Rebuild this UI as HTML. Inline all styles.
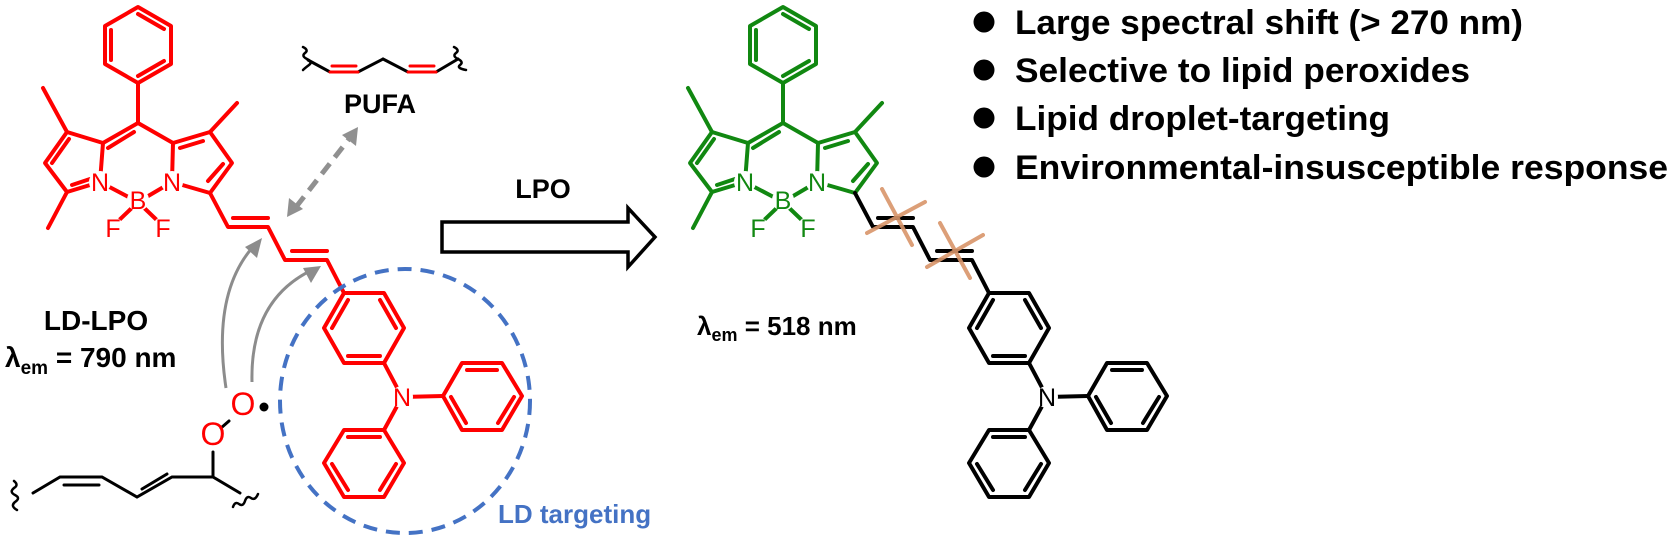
<!DOCTYPE html>
<html><head><meta charset="utf-8"><style>
html,body{margin:0;padding:0;background:#fff;}
svg{display:block;}
text{font-family:"Liberation Sans",Arial,sans-serif;}
</style></head><body>
<svg width="1673" height="539" viewBox="0 0 1673 539" xmlns="http://www.w3.org/2000/svg">
<defs>
<g id="core" stroke-width="4" fill="none" stroke-linecap="round" stroke-linejoin="round">
  <polygon points="138,7 171,26 171,64 138,83 105,64 105,26"/>
  <line x1="138" y1="14" x2="164" y2="29"/>
  <line x1="111" y1="30" x2="111" y2="60"/>
  <line x1="164" y1="61" x2="138" y2="76"/>
  <line x1="138" y1="83" x2="138" y2="123"/>
  <polyline points="103,143 138,123 173,143"/>
  <line x1="108" y1="148" x2="134" y2="132"/>
  <polyline points="100,182 103,143 67,132 45,163 67,192 100,182"/>
  <line x1="69" y1="139" x2="52" y2="163"/>
  <line x1="72" y1="185" x2="90" y2="179"/>
  <polyline points="172,182 173,143 210,132 232,163 210,193 172,182"/>
  <line x1="180" y1="148" x2="203" y2="141"/>
  <line x1="208" y1="181" x2="223" y2="164"/>
  <line x1="67" y1="132" x2="43" y2="88"/>
  <line x1="67" y1="192" x2="48" y2="228"/>
  <line x1="210" y1="132" x2="237" y2="103"/>
  <line x1="100" y1="182" x2="138" y2="202"/>
  <line x1="172" y1="182" x2="138" y2="202"/>
  <line x1="138" y1="202" x2="113" y2="226"/>
  <line x1="138" y1="202" x2="163" y2="226"/>
</g>
<g id="amine" stroke-width="4" fill="none" stroke-linecap="round" stroke-linejoin="round">
  <polygon points="344,293 384,293 404,328 384,363 344,363 324,328"/>
  <line x1="332" y1="328" x2="348" y2="300"/>
  <line x1="380" y1="300" x2="396" y2="328"/>
  <line x1="380" y1="356" x2="348" y2="356"/>
  <polygon points="443,396 462,363 502,363 522,396 502,430 462,430"/>
  <line x1="467" y1="370" x2="497" y2="370"/>
  <line x1="514" y1="397" x2="498" y2="423"/>
  <line x1="466" y1="423" x2="451" y2="397"/>
  <polygon points="344,430 384,430 404,463 384,497 344,497 324,463"/>
  <line x1="348" y1="437" x2="380" y2="437"/>
  <line x1="332" y1="464" x2="348" y2="490"/>
  <line x1="396" y1="464" x2="380" y2="490"/>
  <line x1="384" y1="363" x2="402" y2="397"/>
  <line x1="402" y1="397" x2="443" y2="396"/>
  <line x1="402" y1="397" x2="384" y2="430"/>
  <polyline points="210,193 228,227 268,227 285,260 327,260 344,293"/>
  <line x1="233" y1="218" x2="268" y2="218"/>
  <line x1="292" y1="251" x2="327" y2="251"/>
</g>
<g id="masks" fill="#fff" stroke="none">
  <circle cx="100" cy="182" r="11"/><circle cx="172" cy="182" r="11"/>
  <circle cx="138" cy="200" r="11"/><circle cx="113" cy="227" r="10"/><circle cx="163" cy="227" r="10"/>
</g>
<g id="labels" font-size="25" text-anchor="middle">
  <text x="100" y="191">N</text><text x="172" y="191">N</text>
  <text x="138" y="209">B</text><text x="113" y="237">F</text><text x="163" y="237">F</text>
</g>
</defs>

<g stroke="#ff0000" fill="#ff0000">
  <use href="#core" fill="none"/>
  <use href="#amine" fill="none"/>
</g>
<use href="#masks"/>
<circle cx="402" cy="397" r="11" fill="#fff"/>
<g fill="#ff0000"><use href="#labels"/><text x="402" y="406" font-size="25" text-anchor="middle">N</text></g>

<ellipse cx="405" cy="401" rx="125" ry="132" fill="none" stroke="#4472c4" stroke-width="4" stroke-dasharray="14 9"/>
<text x="498" y="523" font-size="26" font-weight="bold" fill="#4472c4">LD targeting</text>

<g fill="none" stroke-width="3" stroke-linecap="round">
  <polyline points="308,60 330,72 358,72 383,59 408,72 436,72 458,59" stroke="#000"/>
  <line x1="330" y1="72" x2="358" y2="72" stroke="#ff0000"/>
  <line x1="408" y1="72" x2="436" y2="72" stroke="#ff0000"/>
  <line x1="332" y1="66" x2="356" y2="66" stroke="#ff0000"/>
  <line x1="410" y1="66" x2="434" y2="66" stroke="#ff0000"/>
  <path d="M303,47 q6,3 2,6 q-4,3 2,6 q6,3 2,6 q-4,3 -6,5" stroke="#000" stroke-width="2.5"/>
  <path d="M454,47 q6,3 2,6 q-4,3 2,6 q6,3 2,6 q-4,3 6,5" stroke="#000" stroke-width="2.5"/>
</g>
<text x="380" y="113" font-size="27" font-weight="bold" text-anchor="middle">PUFA</text>

<line x1="296" y1="207" x2="349" y2="139" stroke="#909090" stroke-width="5" stroke-dasharray="13 8"/>
<polygon points="287,217 289,198 303,209" fill="#909090"/>
<polygon points="358,127 356,146 342,135" fill="#909090"/>

<g fill="none" stroke="#8c8c8c" stroke-width="3">
  <path d="M226,388 Q212,295 252,248"/>
  <path d="M252,382 Q250,300 312,270"/>
</g>
<polygon points="262,238 257,258 245,247" fill="#8c8c8c"/>
<polygon points="321,266 311,283 303,268" fill="#8c8c8c"/>

<g fill="none" stroke="#000" stroke-width="3" stroke-linecap="round">
  <polyline points="33,493 60,477 102,477 137,497 172,477 213,477 240,493"/>
  <line x1="64" y1="485" x2="99" y2="485"/>
  <line x1="142" y1="489" x2="167" y2="474"/>
  <line x1="213" y1="477" x2="213" y2="452"/>
  <line x1="221" y1="428" x2="229" y2="421"/>
  <path d="M14,481 q5,4 0,7 q-5,4 1,7 q6,3 0,7 q-5,4 2,8" stroke-width="2.5"/>
  <path d="M233,507 q2,-6 6,-3 q4,3 6,-3 q2,-6 6,-3 q4,3 7,-4" stroke-width="2.5"/>
</g>
<g fill="#ff0000" font-size="32" text-anchor="middle">
  <text x="213" y="445">O</text>
  <text x="243" y="415">O</text>
</g>
<circle cx="264" cy="407" r="4.5" fill="#000"/>

<text x="96" y="330" font-size="28" font-weight="bold" text-anchor="middle">LD-LPO</text>
<text x="5" y="367" font-size="28" font-weight="bold">λ<tspan font-size="19" dy="7">em</tspan><tspan dy="-7"> = 790 nm</tspan></text>

<text x="543" y="198" font-size="27" font-weight="bold" text-anchor="middle">LPO</text>
<polygon points="442,222 628,222 628,208 655,237 628,267 628,252 442,252" fill="#fff" stroke="#000" stroke-width="3.5" stroke-linejoin="miter"/>

<g transform="translate(645,0)">
  <g stroke="#118811"><use href="#core"/></g>
  <g stroke="#000"><use href="#amine"/></g>
  <use href="#masks"/>
  <circle cx="402" cy="397" r="11" fill="#fff"/>
  <g fill="#118811"><use href="#labels"/></g>
  <text x="402" y="406" font-size="25" text-anchor="middle">N</text>
</g>
<g stroke="#d9956a" stroke-width="4" stroke-linecap="round" opacity="0.9">
  <line x1="867" y1="233" x2="925" y2="202"/>
  <line x1="882" y1="189" x2="912" y2="245"/>
  <line x1="927" y1="267" x2="983" y2="235"/>
  <line x1="940" y1="223" x2="970" y2="278"/>
</g>
<text x="697" y="335" font-size="26" font-weight="bold">λ<tspan font-size="18" dy="6">em</tspan><tspan dy="-6"> = 518 nm</tspan></text>

<g font-size="34" font-weight="bold">
  <circle cx="984" cy="22" r="10.5"/>
  <text x="1015" y="34" textLength="508" lengthAdjust="spacingAndGlyphs">Large spectral shift (&gt; 270 nm)</text>
  <circle cx="984" cy="70" r="10.5"/>
  <text x="1015" y="82" textLength="455" lengthAdjust="spacingAndGlyphs">Selective to lipid peroxides</text>
  <circle cx="984" cy="118" r="10.5"/>
  <text x="1015" y="130" textLength="375" lengthAdjust="spacingAndGlyphs">Lipid droplet-targeting</text>
  <circle cx="984" cy="167" r="10.5"/>
  <text x="1015" y="179" textLength="653" lengthAdjust="spacingAndGlyphs">Environmental-insusceptible response</text>
</g>
</svg>
</body></html>
